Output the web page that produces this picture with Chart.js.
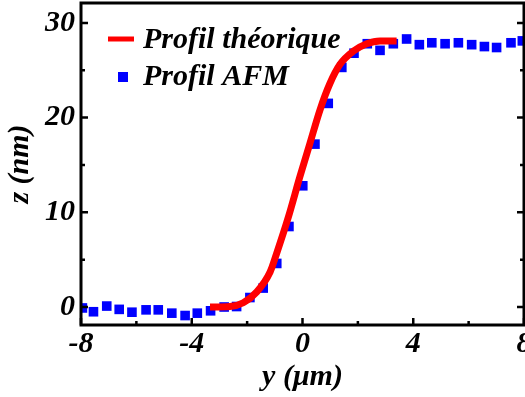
<!DOCTYPE html>
<html>
<head>
<meta charset="utf-8">
<script src="https://cdn.jsdelivr.net/npm/chart.js@4.4.1/dist/chart.umd.min.js"></script>
<style>
  html, body { margin: 0; padding: 0; background: #fff; }
</style>
</head>
<body>
<canvas id="profileChart" width="525" height="397"></canvas>
<script>
// AFM measured profile (y in µm, z in nm)
const afmY = [-7.95, -7.55, -7.07, -6.62, -6.16, -5.65, -5.21, -4.72, -4.24, -3.80, -3.32, -2.83,
  -2.38, -1.90, -1.42, -0.93, -0.49, 0.01, 0.45, 0.93, 1.42, 1.86, 2.34, 2.80, 3.28, 3.76,
  4.22, 4.67, 5.15, 5.63, 6.11, 6.57, 7.01, 7.53, 7.94];
const afmZ = [-0.1, -0.5, 0.1, -0.25, -0.55, -0.3, -0.3, -0.65, -0.9, -0.65, -0.4, 0.0,
  0.05, 1.0, 2.0, 4.6, 8.5, 12.8, 17.2, 21.5, 25.3, 26.8, 27.8, 27.1, 27.8, 28.3,
  27.7, 27.9, 27.8, 27.9, 27.7, 27.5, 27.4, 27.9, 28.1];

// theoretical profile
const theoY = [-3.34, -2.62, -2.14, -1.65, -1.17, -0.93, -0.51, -0.09, 0.27, 0.63, 0.99, 1.35, 1.83, 2.32, 2.80, 3.40];
const theoZ = [0.0, 0.05, 0.45, 1.6, 3.7, 5.7, 9.5, 13.8, 17.3, 20.8, 23.6, 25.6, 27.0, 27.8, 28.1, 28.1];

const seriesNames = ['Profil théorique', 'Profil AFM'];
const xTicks = [-8, -4, 0, 4, 8];
const xMinor = [-6, -2, 2, 6];
const yTicks = [0, 10, 20, 30];
const yMinor = [5, 15, 25];

const FONT = '"Liberation Serif", "Times New Roman", serif';
const RED = '#ff0000';
const BLUE = '#0000ff';
const labelFont = { family: FONT, size: 30, weight: 'bold', style: 'italic' };

// box, inward ticks and the legend
const framePlugin = {
  id: 'frame',
  afterDatasetsDraw(chart) {
    const { ctx, chartArea: a } = chart;
    const x = chart.scales.x, y = chart.scales.y;
    ctx.save();
    ctx.strokeStyle = '#000';
    ctx.lineWidth = 3;
    ctx.strokeRect(a.left, a.top, a.right - a.left, a.bottom - a.top);

    ctx.lineWidth = 2.5;
    ctx.beginPath();
    const tickX = (v, len) => {
      const px = x.getPixelForValue(v);
      ctx.moveTo(px, a.bottom); ctx.lineTo(px, a.bottom - len);
    };
    const tickY = (v, len) => {
      const py = y.getPixelForValue(v);
      ctx.moveTo(a.left, py); ctx.lineTo(a.left + len, py);
      ctx.moveTo(a.right, py); ctx.lineTo(a.right - len, py);
    };
    xTicks.forEach(v => tickX(v, 7));
    xMinor.forEach(v => tickX(v, 4));
    yTicks.forEach(v => tickY(v, 7));
    yMinor.forEach(v => tickY(v, 4));
    ctx.stroke();

    // legend
    ctx.font = 'italic bold 30px ' + FONT;
    ctx.textBaseline = 'middle';
    ctx.fillStyle = '#000';
    ctx.strokeStyle = RED;
    ctx.lineWidth = 5;
    ctx.beginPath();
    ctx.moveTo(108, 39); ctx.lineTo(134, 39);
    ctx.stroke();
    ctx.fillText(seriesNames[0], 143, 40);
    ctx.fillStyle = BLUE;
    ctx.fillRect(118, 72, 10, 10);
    ctx.fillStyle = '#000';
    ctx.fillText(seriesNames[1], 143, 77);
    ctx.restore();
  }
};

new Chart(document.getElementById('profileChart').getContext('2d'), {
  type: 'scatter',
  data: {
    datasets: [
      {
        label: seriesNames[0],
        type: 'line',
        data: theoY.map((v, i) => ({ x: v, y: theoZ[i] })),
        borderColor: RED,
        borderWidth: 7,
        pointRadius: 0,
        cubicInterpolationMode: 'monotone',
        fill: false
      },
      {
        label: seriesNames[1],
        data: afmY.map((v, i) => ({ x: v, y: afmZ[i] })),
        pointStyle: 'rect',
        pointRadius: 6.8,
        pointBorderWidth: 0,
        backgroundColor: BLUE,
        borderColor: BLUE,
        clip: 0
      }
    ]
  },
  options: {
    responsive: false,
    animation: false,
    layout: { autoPadding: false, padding: { top: 3, right: 1, left: 0, bottom: 0 } },
    plugins: { legend: { display: false }, tooltip: { enabled: false } },
    scales: {
      x: {
        type: 'linear',
        min: -8, max: 8,
        afterFit: s => { s.height = 72; s.paddingLeft = 0; s.paddingRight = 0; },
        afterBuildTicks: s => { s.ticks = xTicks.map(v => ({ value: v })); },
        grid: { display: false, drawTicks: false },
        border: { display: false },
        ticks: { color: '#000', padding: 1, maxRotation: 0, font: labelFont },
        title: { display: true, text: 'y (μm)', color: '#000', padding: { top: 0, bottom: 2 }, font: labelFont }
      },
      y: {
        type: 'linear',
        min: -1.9, max: 32.1,
        afterFit: s => { s.width = 81; s.paddingTop = 0; s.paddingBottom = 0; },
        afterBuildTicks: s => { s.ticks = yTicks.map(v => ({ value: v })); },
        grid: { display: false, drawTicks: false },
        border: { display: false },
        ticks: { color: '#000', padding: 6, font: labelFont },
        title: { display: true, text: 'z (nm)', color: '#000', padding: { top: 2, bottom: 0 }, font: labelFont }
      }
    }
  },
  plugins: [framePlugin]
});
</script>
</body>
</html>
